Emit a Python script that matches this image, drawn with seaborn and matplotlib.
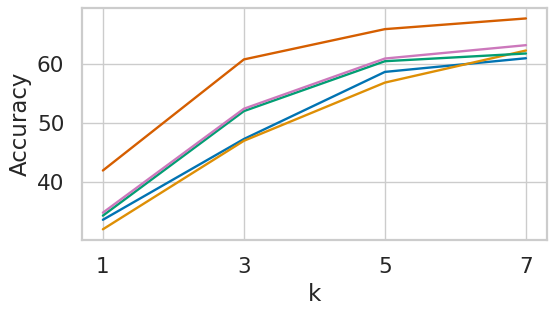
import numpy as np
import pandas as pd
import seaborn as sns
import matplotlib
matplotlib.use("Agg")
import matplotlib.pyplot as plt

# values
k_values = [1, 3, 5, 7]
series_names = ["A", "B", "C", "D", "E"]
acc_a = [33.7, 47.3, 58.6, 60.9]   # blue
acc_b = [32.1, 47.0, 56.8, 62.2]   # orange
acc_c = [34.4, 52.0, 60.4, 61.7]   # green
acc_d = [42.0, 60.7, 65.8, 67.6]   # vermillion
acc_e = [34.9, 52.4, 60.85, 63.1]  # pink

sns.set_theme(style="whitegrid", context="talk",
              rc={"grid.linewidth": 1.0, "axes.linewidth": 1.6,
                  "xtick.labelsize": 15.5, "ytick.labelsize": 15.5,
                  "axes.labelsize": 16.5})

rows = []
for name, vals in zip(series_names, [acc_a, acc_b, acc_c, acc_d, acc_e]):
    for k, v in zip(k_values, vals):
        rows.append({"k": k, "Accuracy": v, "series": name})
df = pd.DataFrame(rows)

fig, ax = plt.subplots(figsize=(5.56, 3.16), dpi=100)
sns.lineplot(data=df, x="k", y="Accuracy", hue="series",
             palette=sns.color_palette("colorblind", 5),
             linewidth=1.7, legend=False, ax=ax)
ax.set_xticks(k_values)
ax.set_yticks([40, 50, 60])
ax.set_xlabel("k")
ax.set_ylabel("Accuracy")

fig.subplots_adjust(left=0.147, right=0.984, top=0.975, bottom=0.241)
fig.savefig("out.png", dpi=100)
